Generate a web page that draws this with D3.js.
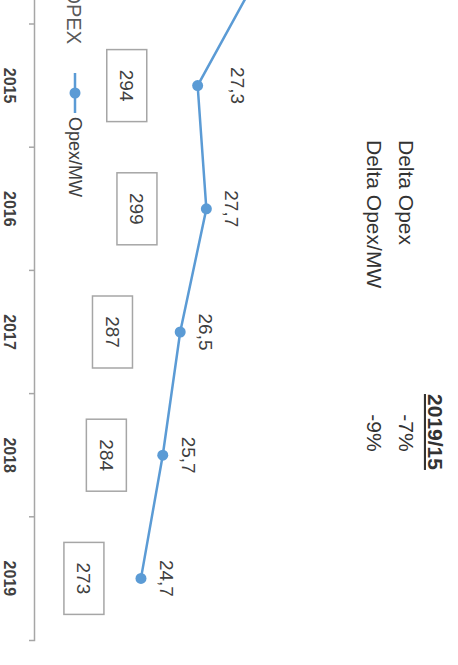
<!DOCTYPE html>
<html>
<head>
<meta charset="utf-8">
<script src="https://cdn.jsdelivr.net/npm/d3@7"></script>
<style>
  body { margin: 0; background: #fff; }
  svg { display: block; font-family: "Liberation Sans", Arial, sans-serif; }
</style>
</head>
<body>
<div id="chart"></div>
<script>
// values (2014 only shows as the line leaving the frame)
const years = ["2014", "2015", "2016", "2017", "2018", "2019"];
const opexPerMW = [30.4, 27.3, 27.7, 26.5, 25.7, 24.7];
const opexYears = ["2015", "2016", "2017", "2018", "2019"];
const opex = [294, 299, 287, 284, 273];
const deltaHeader = "2019/15";
const deltaLabels = ["Delta Opex", "Delta Opex/MW"];
const deltaValues = ["-7%", "-9%"];

const width = 458;
const height = 665;

const svg = d3.select("#chart")
    .append("svg")
    .attr("width", width)
    .attr("height", height);

svg.append("rect").attr("width", width).attr("height", height).attr("fill", "#fff");

// the slide is turned a quarter clockwise, so draw it upright and rotate
const g = svg.append("g")
    .attr("transform", "translate(" + width + ",0) rotate(90)");

const axisY = 423;

const x = d3.scaleBand()
    .domain(years)
    .range([-99.2, 640]);

const y = d3.scaleLinear()
    .domain([20, 30])
    .range([419.5, 201.5]);

const y2 = d3.scaleLinear()
    .domain([250, 300])
    .range([421, 319]);

const comma = d => d3.format(".1f")(d).replace(".", ",");
const shown = d => d.year !== "2014"; // 2014 is outside the crop

// category axis
const axis = g.append("g")
    .attr("transform", "translate(0," + axisY + ")")
    .call(d3.axisBottom(x).tickValues(opexYears).tickSize(0).tickSizeOuter(6));

axis.select(".domain").attr("stroke", "#a6a6a6").attr("stroke-width", 1.5);
axis.selectAll(".tick text")
    .attr("y", 31)
    .attr("dy", 0)
    .attr("font-size", 16)
    .attr("font-weight", "bold")
    .attr("font-family", "Liberation Sans, Arial, sans-serif")
    .attr("fill", "#404040");

// ticks sit between the categories
axis.selectAll("line.sep")
    .data(years)
    .enter().append("line")
    .attr("class", "sep")
    .attr("x1", d => x(d))
    .attr("x2", d => x(d))
    .attr("y1", 0)
    .attr("y2", 6)
    .attr("stroke", "#a6a6a6")
    .attr("stroke-width", 1.5);

// OPEX value boxes
const boxes = g.selectAll("g.box")
    .data(opex.map((v, i) => ({ year: opexYears[i], value: v })))
    .enter().append("g")
    .attr("class", "box")
    .attr("transform", d => "translate(" + (x(d.year) + x.bandwidth() / 2) + "," + y2(d.value) + ")");

boxes.append("rect")
    .attr("x", -36)
    .attr("y", -20)
    .attr("width", 72)
    .attr("height", 40)
    .attr("fill", "#fff")
    .attr("stroke", "#a6a6a6")
    .attr("stroke-width", 1.5);

boxes.append("text")
    .attr("text-anchor", "middle")
    .attr("dy", "0.36em")
    .attr("font-size", 19)
    .attr("fill", "#404040")
    .text(d => d.value);

// Opex/MW line
const pts = opexPerMW.map((v, i) => ({ year: years[i], value: v }));

const line = d3.line()
    .x(d => x(d.year) + x.bandwidth() / 2)
    .y(d => y(d.value));

g.append("path")
    .datum(pts)
    .attr("d", line)
    .attr("fill", "none")
    .attr("stroke", "#5b9bd5")
    .attr("stroke-width", 2.5);

g.selectAll("circle.pt")
    .data(pts)
    .enter().append("circle")
    .attr("class", "pt")
    .attr("cx", d => x(d.year) + x.bandwidth() / 2)
    .attr("cy", d => y(d.value))
    .attr("r", 5.5)
    .attr("fill", "#5b9bd5");

g.selectAll("text.lbl")
    .data(pts.filter(shown))
    .enter().append("text")
    .attr("class", "lbl")
    .attr("x", d => x(d.year) + x.bandwidth() / 2)
    .attr("y", d => y(d.value) - (d.year === "2015" ? 33 : 19))
    .attr("text-anchor", "middle")
    .attr("font-size", 19)
    .attr("fill", "#404040")
    .text(d => comma(d.value));

// legend
g.append("text")
    .attr("x", 44)
    .attr("y", 391)
    .attr("text-anchor", "end")
    .attr("font-size", 20)
    .attr("fill", "#595959")
    .text("OPEX");

g.append("line")
    .attr("x1", 73).attr("x2", 113)
    .attr("y1", 383).attr("y2", 383)
    .attr("stroke", "#5b9bd5")
    .attr("stroke-width", 2.5);

g.append("circle")
    .attr("cx", 93).attr("cy", 383).attr("r", 5.5)
    .attr("fill", "#5b9bd5");

g.append("text")
    .attr("x", 117)
    .attr("y", 389.5)
    .attr("font-size", 18)
    .attr("fill", "#404040")
    .text("Opex/MW");

// delta table
const table = g.append("g").attr("font-size", 21).attr("fill", "#333");

table.append("text")
    .attr("x", 432)
    .attr("y", 30)
    .attr("text-anchor", "middle")
    .attr("font-weight", "bold")
    .attr("text-decoration", "underline")
    .text(deltaHeader);

table.selectAll("text.dl")
    .data(deltaLabels)
    .enter().append("text")
    .attr("class", "dl")
    .attr("x", 140)
    .attr("y", (d, i) => 59 + i * 32)
    .text(d => d);

table.selectAll("text.dv")
    .data(deltaValues)
    .enter().append("text")
    .attr("class", "dv")
    .attr("x", 433)
    .attr("y", (d, i) => 59 + i * 32)
    .attr("text-anchor", "middle")
    .text(d => d);
</script>
</body>
</html>
